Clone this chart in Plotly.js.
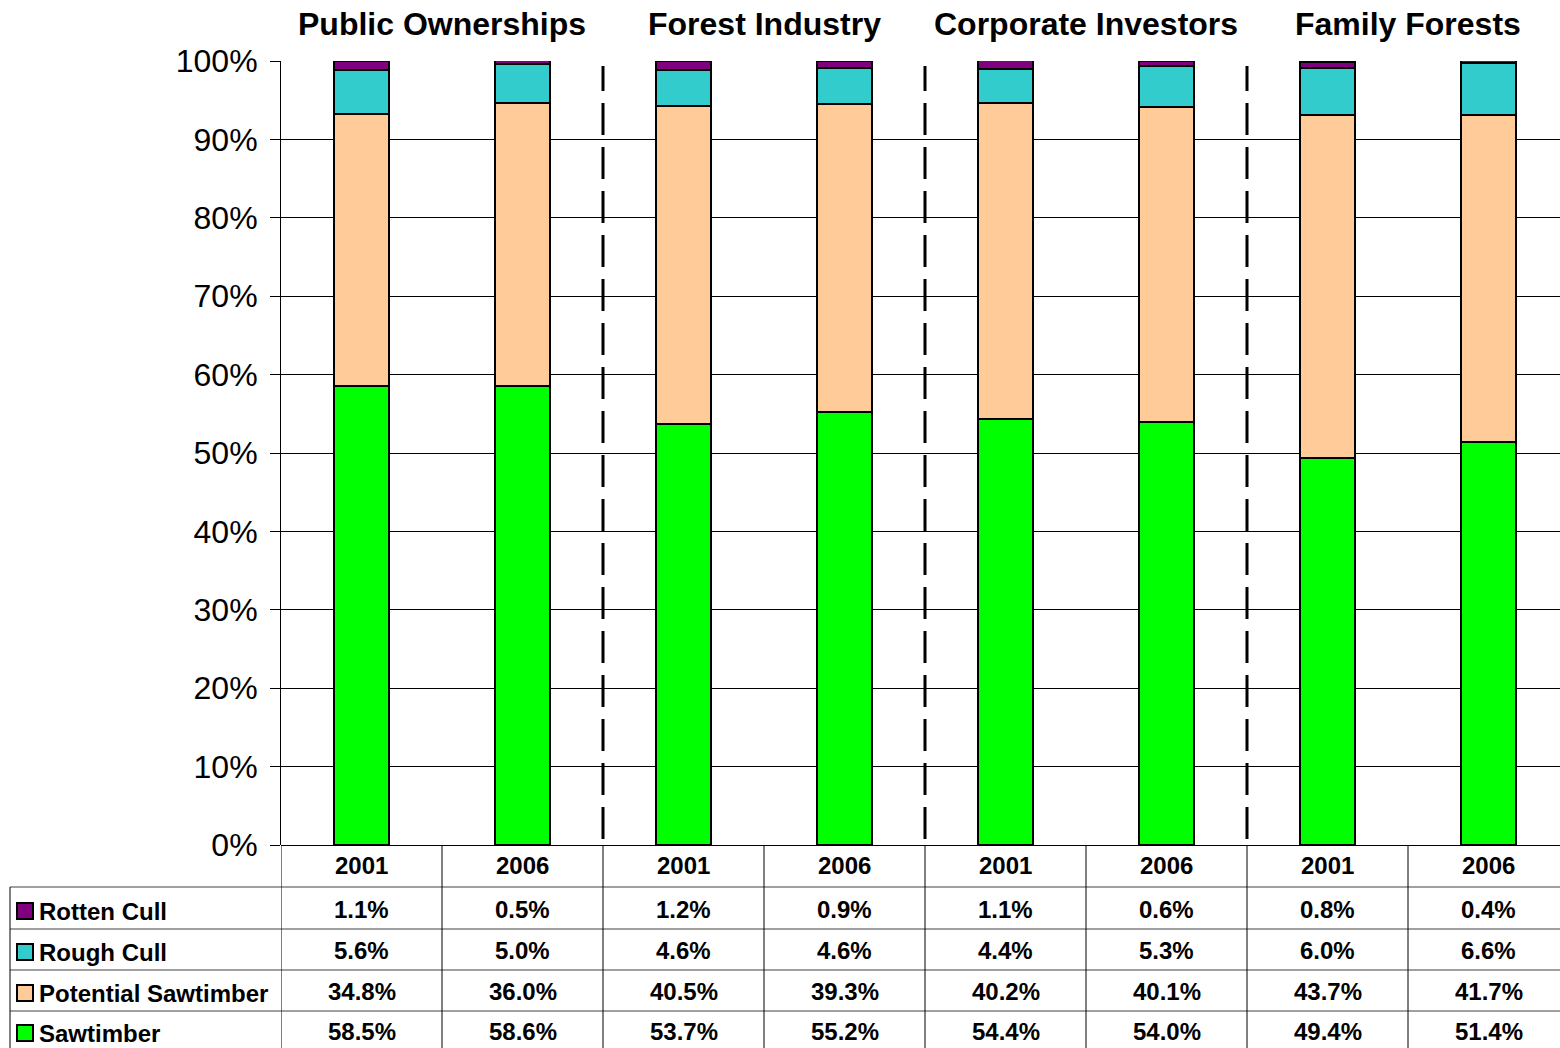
<!DOCTYPE html>
<html><head><meta charset="utf-8">
<script src="https://cdn.plot.ly/plotly-3.0.1.min.js"></script>
<style>body{margin:0;background:#fff}#chart{width:1560px;height:1048px}</style>
</head><body><div id="chart"></div>
<script>
const groups = ["Public Ownerships", "Forest Industry", "Corporate Investors", "Family Forests"];
const years = ["2001", "2006", "2001", "2006", "2001", "2006", "2001", "2006"];
const seriesNames = ["Rotten Cull", "Rough Cull", "Potential Sawtimber", "Sawtimber"];
const rottenCull = [1.1, 0.5, 1.2, 0.9, 1.1, 0.6, 0.8, 0.4];
const roughCull = [5.6, 5.0, 4.6, 4.6, 4.4, 5.3, 6.0, 6.6];
const potentialSawtimber = [34.8, 36.0, 40.5, 39.3, 40.2, 40.1, 43.7, 41.7];
const sawtimber = [58.5, 58.6, 53.7, 55.2, 54.4, 54.0, 49.4, 51.4];
const colors = ["#800080", "#33CCCC", "#FFCC99", "#00FF00"];
const seriesValues = [rottenCull, roughCull, potentialSawtimber, sawtimber];

const FONT = "Liberation Sans, Arial, sans-serif";
const W = 1560, H = 1048, L = 281, T = 61, B = 845;
const CAT = 161; // category pitch in px
const xMax = (W - L) / CAT - 0.5;
const py = p => (B - p) / (B - T);
const pxp = p => (p - L) / (W - L);
const xs = years.map((_, i) => i);

const traces = [];
for (let s = seriesValues.length - 1; s >= 0; s--) {
  traces.push({
    type: "bar", x: xs, y: seriesValues[s], name: seriesNames[s],
    width: 0.34,
    marker: {color: colors[s], line: {color: "#000", width: 2}},
    hoverinfo: "skip", showlegend: false
  });
}

const shapes = [];
const annotations = [];
for (let g = 1; g < groups.length; g++) {
  const xb = g * 2 - 0.5;
  shapes.push({type: "line", xref: "x", yref: "paper", x0: xb, x1: xb, y0: py(839), y1: py(66),
    line: {color: "#000", width: 3, dash: "32px,12px"}});
}
groups.forEach((g, i) => {
  annotations.push({xref: "x", yref: "paper", x: i * 2 + 0.5, y: py(24), text: "<b>" + g + "</b>",
    showarrow: false, font: {family: FONT, size: 32, color: "#000"}, xanchor: "center", yanchor: "middle"});
});

const rowLines = [887, 929, 970, 1011];
const gridCol = "#808080";
rowLines.forEach(r => {
  shapes.push({type: "line", xref: "paper", yref: "paper", x0: pxp(10), x1: 1, y0: py(r), y1: py(r),
    line: {color: gridCol, width: 1.5}});
});
for (let i = 0; i < years.length; i++) {
  const xb = i - 0.5;
  shapes.push({type: "line", xref: "x", yref: "paper", x0: xb, x1: xb, y0: py(845), y1: py(1048),
    line: {color: "#000", width: 1}});
}
shapes.push({type: "line", xref: "paper", yref: "paper", x0: pxp(10), x1: pxp(10), y0: py(887), y1: py(1048),
  line: {color: "#000", width: 1}});

years.forEach((yr, i) => {
  annotations.push({xref: "x", yref: "paper", x: i, y: py(866), text: "<b>" + yr + "</b>",
    showarrow: false, font: {family: FONT, size: 24, color: "#000"}, xanchor: "center", yanchor: "middle"});
});
const rowCenters = [909, 950, 991, 1031];
seriesValues.forEach((vals, s) => {
  vals.forEach((v, i) => {
    annotations.push({xref: "x", yref: "paper", x: i, y: py(rowCenters[s]), text: "<b>" + v.toFixed(1) + "%</b>",
      showarrow: false, font: {family: FONT, size: 24, color: "#000"}, xanchor: "center", yanchor: "middle"});
  });
  const c = rowCenters[s] + 2;
  shapes.push({type: "rect", xref: "paper", yref: "paper", x0: pxp(17), x1: pxp(33), y0: py(c - 8), y1: py(c + 8),
    fillcolor: colors[s], line: {color: "#000", width: 2}});
  annotations.push({xref: "paper", yref: "paper", x: pxp(37), y: py(c), text: "<b>" + seriesNames[s] + "</b>",
    showarrow: false, font: {family: FONT, size: 24, color: "#000"}, xanchor: "left", yanchor: "middle"});
});

const layout = {
  width: W, height: H,
  margin: {l: L, r: 0, t: T, b: H - B, pad: 0},
  paper_bgcolor: "#fff", plot_bgcolor: "#fff",
  barmode: "stack",
  showlegend: false,
  xaxis: {range: [-0.5, xMax], showticklabels: false, showgrid: false, zeroline: false,
    showline: false, ticks: "", fixedrange: true},
  yaxis: {range: [0, 100], dtick: 10, ticksuffix: "%", showgrid: true, gridcolor: "#000", gridwidth: 1,
    showline: true, linecolor: "#000", linewidth: 1, ticks: "outside", ticklen: 10, tickcolor: "#000",
    ticklabelstandoff: 6,
    zeroline: true, zerolinecolor: "#000", zerolinewidth: 1,
    tickfont: {family: FONT, size: 32, color: "#000"}, fixedrange: true},
  shapes: shapes,
  annotations: annotations
};

Plotly.newPlot("chart", traces, layout, {displayModeBar: false, staticPlot: true});
</script>
</body></html>
